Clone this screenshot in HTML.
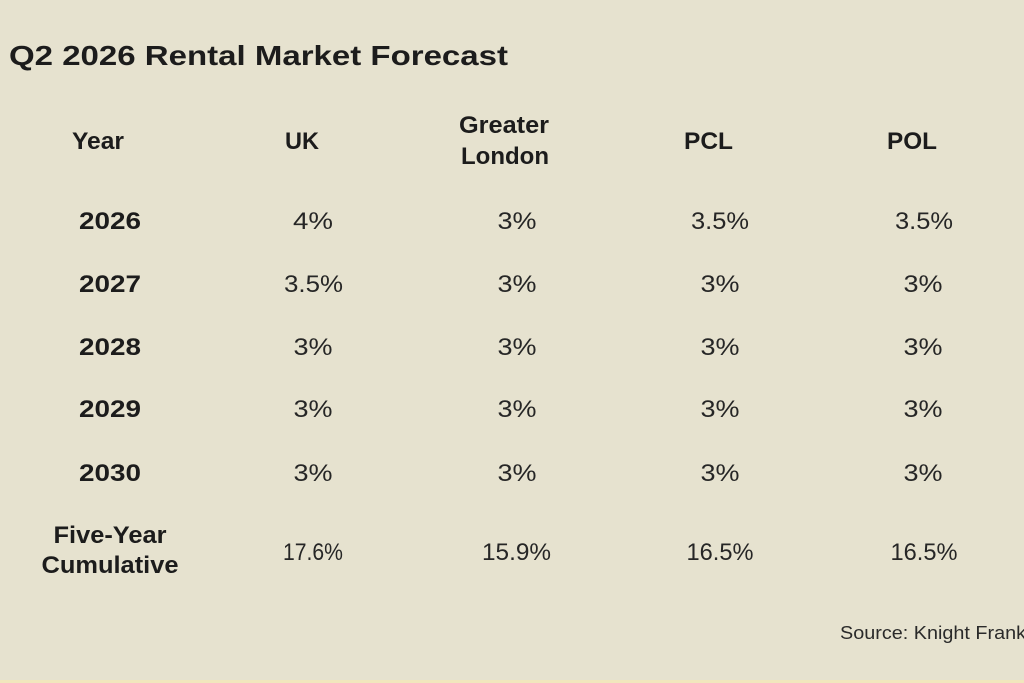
<!DOCTYPE html>
<html>
<head>
<meta charset="utf-8">
<style>
  html, body { margin:0; padding:0; width:1024px; height:683px; overflow:hidden; background:#e6e2cf; }
  svg { display:block; }
  text { font-family:"Liberation Sans", sans-serif; }
  .b { font-weight:bold; fill:#1c1c1c; font-size:24px; }
  .v { font-weight:normal; fill:#262626; font-size:24px; }
</style>
</head>
<body>
<svg width="1024" height="683" viewBox="0 0 1024 683" xmlns="http://www.w3.org/2000/svg">
  <rect x="0" y="0" width="1024" height="683" fill="#e6e2cf"/>
  <rect x="0" y="680" width="1024" height="3" fill="#f1e6bd"/>

  <text x="9" y="65" font-size="28" font-weight="bold" fill="#1c1c1c" textLength="499" lengthAdjust="spacingAndGlyphs">Q2 2026 Rental Market Forecast</text>

  <!-- headers -->
  <text class="b" x="98" y="149" text-anchor="middle" textLength="52" lengthAdjust="spacingAndGlyphs">Year</text>
  <text class="b" x="302" y="149" text-anchor="middle" textLength="34" lengthAdjust="spacingAndGlyphs">UK</text>
  <text class="b" x="504" y="133" text-anchor="middle" textLength="90" lengthAdjust="spacingAndGlyphs">Greater</text>
  <text class="b" x="505" y="164" text-anchor="middle" textLength="88" lengthAdjust="spacingAndGlyphs">London</text>
  <text class="b" x="708.5" y="149" text-anchor="middle" textLength="49" lengthAdjust="spacingAndGlyphs">PCL</text>
  <text class="b" x="912" y="149" text-anchor="middle" textLength="50" lengthAdjust="spacingAndGlyphs">POL</text>

  <!-- year labels -->
  <text class="b" x="110" y="229" text-anchor="middle" textLength="62" lengthAdjust="spacingAndGlyphs">2026</text>
  <text class="b" x="110" y="292" text-anchor="middle" textLength="62" lengthAdjust="spacingAndGlyphs">2027</text>
  <text class="b" x="110" y="355" text-anchor="middle" textLength="62" lengthAdjust="spacingAndGlyphs">2028</text>
  <text class="b" x="110" y="417" text-anchor="middle" textLength="62" lengthAdjust="spacingAndGlyphs">2029</text>
  <text class="b" x="110" y="481" text-anchor="middle" textLength="62" lengthAdjust="spacingAndGlyphs">2030</text>
  <text class="b" x="110" y="543" text-anchor="middle" textLength="113" lengthAdjust="spacingAndGlyphs">Five-Year</text>
  <text class="b" x="110" y="573" text-anchor="middle" textLength="137" lengthAdjust="spacingAndGlyphs">Cumulative</text>

  <!-- 2026 -->
  <text class="v" x="313" y="229" text-anchor="middle" textLength="40" lengthAdjust="spacingAndGlyphs">4%</text>
  <text class="v" x="517" y="229" text-anchor="middle" textLength="39" lengthAdjust="spacingAndGlyphs">3%</text>
  <text class="v" x="720" y="229" text-anchor="middle" textLength="58" lengthAdjust="spacingAndGlyphs">3.5%</text>
  <text class="v" x="924" y="229" text-anchor="middle" textLength="58" lengthAdjust="spacingAndGlyphs">3.5%</text>
  <!-- 2027 -->
  <text class="v" x="313.5" y="292" text-anchor="middle" textLength="59" lengthAdjust="spacingAndGlyphs">3.5%</text>
  <text class="v" x="517" y="292" text-anchor="middle" textLength="39" lengthAdjust="spacingAndGlyphs">3%</text>
  <text class="v" x="720" y="292" text-anchor="middle" textLength="39" lengthAdjust="spacingAndGlyphs">3%</text>
  <text class="v" x="923" y="292" text-anchor="middle" textLength="39" lengthAdjust="spacingAndGlyphs">3%</text>
  <!-- 2028 -->
  <text class="v" x="313" y="355" text-anchor="middle" textLength="39" lengthAdjust="spacingAndGlyphs">3%</text>
  <text class="v" x="517" y="355" text-anchor="middle" textLength="39" lengthAdjust="spacingAndGlyphs">3%</text>
  <text class="v" x="720" y="355" text-anchor="middle" textLength="39" lengthAdjust="spacingAndGlyphs">3%</text>
  <text class="v" x="923" y="355" text-anchor="middle" textLength="39" lengthAdjust="spacingAndGlyphs">3%</text>
  <!-- 2029 -->
  <text class="v" x="313" y="417" text-anchor="middle" textLength="39" lengthAdjust="spacingAndGlyphs">3%</text>
  <text class="v" x="517" y="417" text-anchor="middle" textLength="39" lengthAdjust="spacingAndGlyphs">3%</text>
  <text class="v" x="720" y="417" text-anchor="middle" textLength="39" lengthAdjust="spacingAndGlyphs">3%</text>
  <text class="v" x="923" y="417" text-anchor="middle" textLength="39" lengthAdjust="spacingAndGlyphs">3%</text>
  <!-- 2030 -->
  <text class="v" x="313" y="481" text-anchor="middle" textLength="39" lengthAdjust="spacingAndGlyphs">3%</text>
  <text class="v" x="517" y="481" text-anchor="middle" textLength="39" lengthAdjust="spacingAndGlyphs">3%</text>
  <text class="v" x="720" y="481" text-anchor="middle" textLength="39" lengthAdjust="spacingAndGlyphs">3%</text>
  <text class="v" x="923" y="481" text-anchor="middle" textLength="39" lengthAdjust="spacingAndGlyphs">3%</text>
  <!-- cumulative -->
  <text class="v" x="313" y="560" text-anchor="middle" textLength="60" lengthAdjust="spacingAndGlyphs">17.6%</text>
  <text class="v" x="516.5" y="560" text-anchor="middle" textLength="69" lengthAdjust="spacingAndGlyphs">15.9%</text>
  <text class="v" x="720" y="560" text-anchor="middle" textLength="67" lengthAdjust="spacingAndGlyphs">16.5%</text>
  <text class="v" x="924" y="560" text-anchor="middle" textLength="67" lengthAdjust="spacingAndGlyphs">16.5%</text>

  <text x="840" y="639" font-size="18" fill="#2a2a2a" textLength="186" lengthAdjust="spacingAndGlyphs">Source: Knight Frank</text>
</svg>
</body>
</html>
